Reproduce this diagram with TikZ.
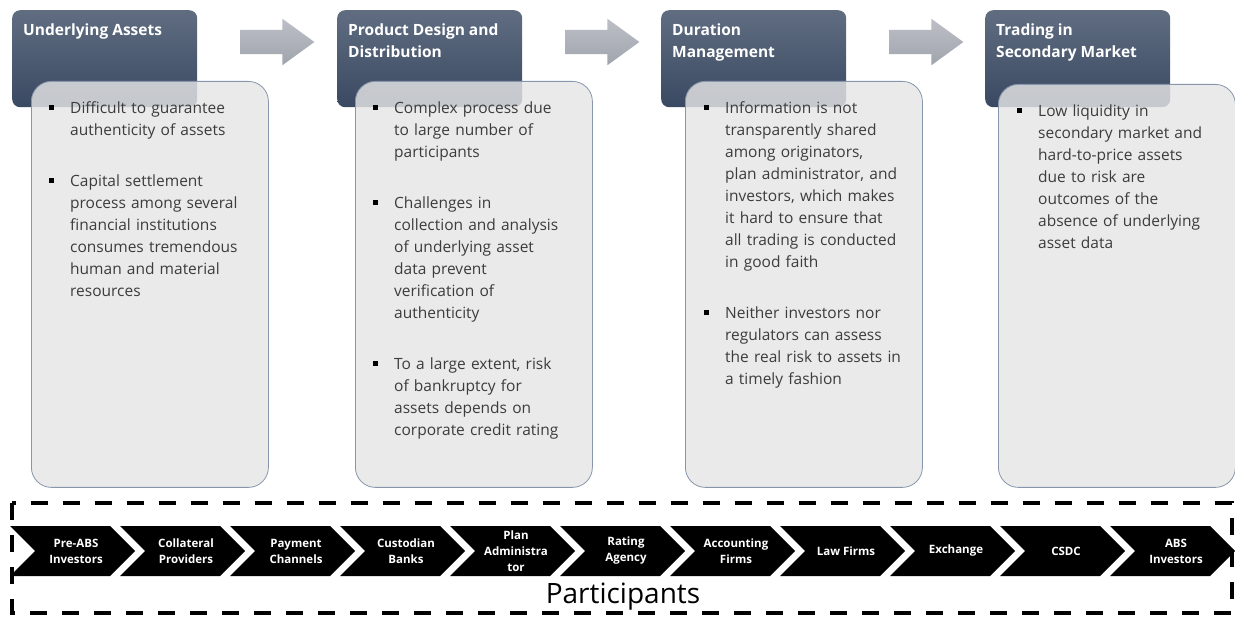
\documentclass[tikz,border=0pt]{standalone}
\usepackage{fontspec}
\setmainfont{Open Sans}
\usetikzlibrary{positioning,shapes.arrows}

\definecolor{hdtop}{RGB}{96,109,129}
\definecolor{hdbot}{RGB}{58,73,98}
\definecolor{panelfill}{RGB}{229,229,229}
\definecolor{panelline}{RGB}{135,150,172}
\definecolor{bodytext}{RGB}{60,60,60}
\definecolor{arrtop}{RGB}{188,191,198}
\definecolor{arrbot}{RGB}{160,164,172}

\newcommand{\bulitem}[1]{\par\hangindent=21pt\hangafter=1\noindent\hbox to 21pt{\textcolor{black}{\rule[3.5pt]{5pt}{5pt}}\hfil}#1\par}
\newcommand{\itemgap}{\vspace{29pt}}

\begin{document}
\begin{tikzpicture}[
    x=1pt, y=-1pt,
    header/.style={rectangle, rounded corners=8pt, top color=hdtop, bottom color=hdbot, minimum width=185pt, minimum height=97pt, anchor=north west, inner sep=0pt},
    headtitle/.style={anchor=north west, inner sep=0pt, text=white, font=\fontsize{15.5}{21.5}\selectfont\bfseries, align=left},
    panel/.style={rectangle, rounded corners=20pt, draw=panelline, line width=0.8pt, fill=panelfill, fill opacity=0.82, minimum width=237pt, minimum height=406pt, anchor=north west},
    bullets/.style={anchor=north west, inner sep=0pt, text width=215pt, text=bodytext, font=\fontsize{15.5}{22}\selectfont, align=left},
    flow/.style={single arrow, top color=arrtop, bottom color=arrbot, minimum height=74pt, inner xsep=0pt, inner ysep=12pt, single arrow head extend=11pt, single arrow tip angle=72},
    chevlabel/.style={text=white, inner sep=0pt, align=center, font=\bfseries\fontsize{11.5}{16}\selectfont},
    dashbox/.style={draw, line width=3.5pt, dash pattern=on 17pt off 15pt}
]
\useasboundingbox (0,0) rectangle (1235,617);

% Stage headers
\node[header] (hd1) at (12,10) {};
\node[header] (hd2) at (337,10) {};
\node[header] (hd3) at (661,10) {};
\node[header] (hd4) at (985,10) {};

\node[headtitle, below right=14pt and 11pt of hd1.north west] (tt1) {Underlying Assets};
\node[headtitle, below right=14pt and 11pt of hd2.north west] (tt2) {Product Design and\\Distribution};
\node[headtitle, below right=14pt and 11pt of hd3.north west] (tt3) {Duration\\Management};
\node[headtitle, below right=14pt and 11pt of hd4.north west] (tt4) {Trading in\\Secondary Market};

% Panels
\node[panel] (pn1) at (31,81) {};
\node[panel] (pn2) at (355,81) {};
\node[panel] (pn3) at (685,81) {};
\node[panel, minimum height=403pt] (pn4) at (998,84) {};

% Arrows between stages
\foreach \ax [count=\i] in {269,594,918} {
    \node[flow] (ar\i) at (\ax,42) {};
}

% Stage I: Underlying Assets
\node[bullets] (tx1) at (49,91) {%
\bulitem{Difficult to guarantee\newline authenticity of assets}\itemgap
\bulitem{Capital settlement\newline process among several\newline financial institutions\newline consumes tremendous\newline human and material\newline resources}};

% Stage II: Product Design and Distribution
\node[bullets] (tx2) at (373,91) {%
\bulitem{Complex process due\newline to large number of\newline participants}\itemgap
\bulitem{Challenges in\newline collection and analysis\newline of underlying asset\newline data prevent\newline verification of\newline authenticity}\itemgap
\bulitem{To a large extent, risk\newline of bankruptcy for\newline assets depends on\newline corporate credit rating}};

% Stage III: Duration Management
\node[bullets] (tx3) at (704,91) {%
\bulitem{Information is not\newline transparently shared\newline among originators,\newline plan administrator, and\newline investors, which makes\newline it hard to ensure that\newline all trading is conducted\newline in good faith}\itemgap
\bulitem{Neither investors nor\newline regulators can assess\newline the real risk to assets in\newline a timely fashion}};

% Stage IV: Trading in Secondary Market
\node[bullets] (tx4) at (1017,94) {%
\bulitem{Low liquidity in\newline secondary market and\newline hard-to-price assets\newline due to risk are\newline outcomes of the\newline absence of underlying\newline asset data}};

% Participants
\draw[dashbox] (12,503) rectangle (1232,613);
\foreach \lbl [count=\i from 0] in {{Pre-ABS\\Investors}, {Collateral\\Providers}, {Payment\\Channels}, {Custodian\\Banks}, {Plan\\Administra\\tor}, {Rating\\Agency}, {Accounting\\Firms}, {Law Firms}, {Exchange}, {CSDC}, {ABS\\Investors}} {
    \pgfmathsetmacro{\cx}{10+110*\i}
    \fill (\cx,526) -- ++(100,0) -- ++(25,25) -- ++(-25,25) -- ++(-100,0) -- ++(25,-25) -- cycle;
    \node[chevlabel] (ch\i) at (\cx+66,551) {\lbl};
}
\node[font=\fontsize{28}{32}\selectfont, text=black, anchor=base] (parts) at (623,603) {Participants};

\end{tikzpicture}
\end{document}
